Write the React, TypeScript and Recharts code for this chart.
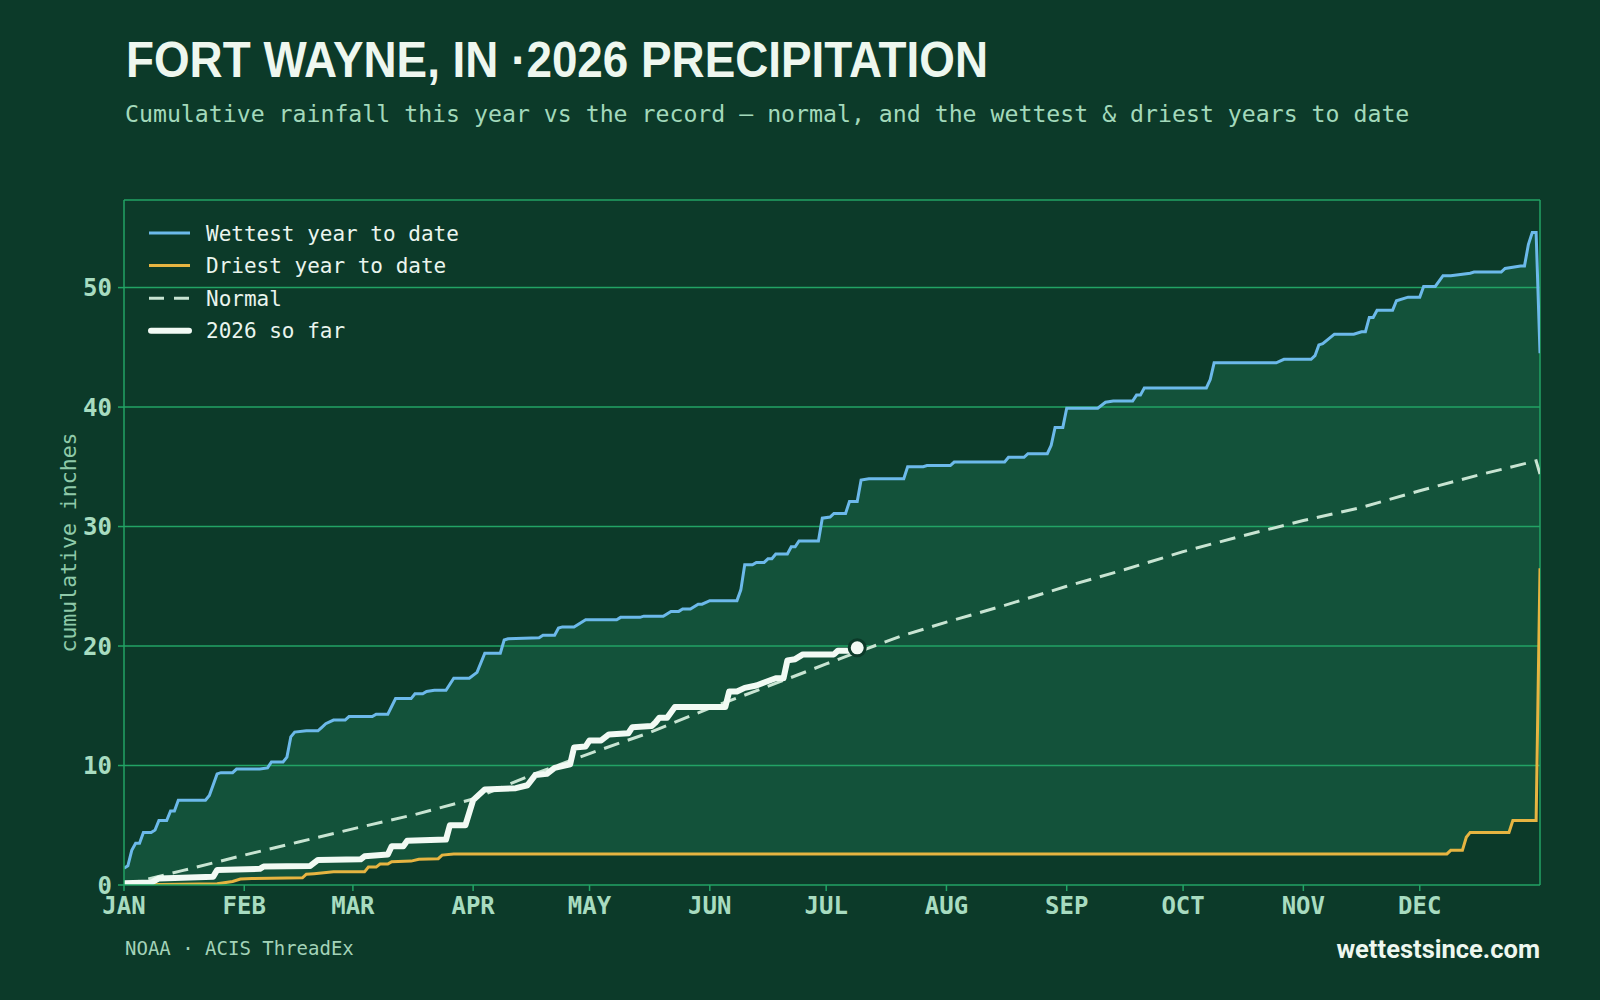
import React from "react";
import {
  ComposedChart,
  Area,
  Line,
  XAxis,
  YAxis,
  ReferenceLine,
  Label,
} from "recharts";

// [day of year, cumulative inches]
const WETTEST: [number, number][] = [
  [0, 1.4], [1, 1.6], [2, 2.9], [3, 3.5], [4, 3.5], [5, 4.4], [7, 4.4], [8, 4.6],
  [9, 5.4], [11, 5.4], [12, 6.2], [13, 6.2], [14, 7.1], [21, 7.1], [22, 7.5],
  [24, 9.3], [25, 9.4], [28, 9.4], [29, 9.7], [35, 9.7], [37, 9.8], [38, 10.3],
  [41, 10.3], [42, 10.7], [43, 12.4], [44, 12.8], [47, 12.9], [50, 12.9],
  [51, 13.2], [52, 13.5], [54, 13.8], [57, 13.8], [58, 14.1], [64, 14.1],
  [65, 14.3], [68, 14.3], [70, 15.6], [74, 15.6], [75, 16.0], [77, 16.0],
  [78, 16.2], [80, 16.3], [83, 16.3], [85, 17.3], [89, 17.3], [91, 17.8],
  [93, 19.4], [97, 19.4], [98, 20.5], [99, 20.6], [107, 20.7], [108, 20.9],
  [111, 20.9], [112, 21.5], [113, 21.6], [116, 21.6], [119, 22.2], [127, 22.2],
  [128, 22.4], [133, 22.4], [134, 22.5], [139, 22.5], [141, 22.9], [143, 22.9],
  [144, 23.1], [146, 23.1], [148, 23.5], [149, 23.5], [151, 23.8], [158, 23.8],
  [159, 24.7], [160, 26.8], [162, 26.8], [163, 27.0], [165, 27.0], [166, 27.3],
  [167, 27.3], [168, 27.7], [171, 27.7], [172, 28.3], [173, 28.3], [174, 28.8],
  [179, 28.8], [180, 30.7], [182, 30.8], [183, 31.1], [186, 31.1], [187, 32.1],
  [189, 32.1], [190, 33.9], [192, 34.0], [201, 34.0], [202, 35.0], [206, 35.0],
  [207, 35.1], [213, 35.1], [214, 35.4], [227, 35.4], [228, 35.8], [232, 35.8],
  [233, 36.1], [238, 36.1], [239, 36.8], [240, 38.3], [242, 38.3], [243, 39.9],
  [251, 39.9], [253, 40.4], [255, 40.5], [260, 40.5], [261, 41.0], [262, 41.0],
  [263, 41.6], [279, 41.6], [280, 42.3], [281, 43.7], [297, 43.7], [299, 44.0],
  [306, 44.0], [307, 44.3], [308, 45.2], [309, 45.3], [312, 46.1], [317, 46.1],
  [319, 46.3], [320, 46.3], [321, 47.5], [322, 47.5], [323, 48.1], [327, 48.1],
  [328, 48.9], [331, 49.2], [334, 49.2], [335, 50.1], [338, 50.1], [340, 51.0],
  [342, 51.0], [347, 51.2], [348, 51.3], [355, 51.3], [356, 51.6], [360, 51.8],
  [361, 51.8], [362, 53.6], [363, 54.6], [364, 54.6], [365, 44.5],
];

const DRIEST: [number, number][] = [
  [0, 0], [24, 0.1], [28, 0.3], [30, 0.5], [33, 0.55], [46, 0.6], [47, 0.9],
  [49, 0.95], [54, 1.1], [62, 1.1], [63, 1.5], [65, 1.5], [66, 1.75], [68, 1.75],
  [69, 1.95], [74, 2.0], [76, 2.15], [81, 2.2], [82, 2.5], [85, 2.6], [341, 2.6],
  [342, 2.9], [345, 2.9], [346, 4.0], [347, 4.4], [357, 4.4], [358, 5.4],
  [364, 5.4], [365, 26.5],
];

const NORMAL: [number, number][] = [
  [0, 0], [15, 1.2], [31, 2.5], [45, 3.6], [59, 4.7], [75, 5.9], [90, 7.2],
  [105, 9.2], [120, 11.0], [135, 12.7], [151, 14.8], [165, 16.5], [181, 18.5],
  [190, 19.6], [200, 20.8], [212, 22.0], [227, 23.4], [243, 25.0], [258, 26.4],
  [273, 27.9], [288, 29.2], [304, 30.5], [319, 31.6], [334, 33.0], [349, 34.3],
  [364, 35.5], [365, 34.4],
];

const THIS_YEAR: [number, number][] = [
  [0, 0.15], [7, 0.2], [9, 0.55], [23, 0.7], [24, 1.25], [35, 1.35], [36, 1.55],
  [48, 1.6], [50, 2.1], [61, 2.15], [62, 2.4], [68, 2.55], [69, 3.25], [72, 3.25],
  [73, 3.7], [83, 3.8], [84, 5.0], [88, 5.0], [90, 7.1], [93, 8.0], [101, 8.1],
  [104, 8.35], [106, 9.2], [109, 9.3], [111, 9.8], [115, 10.1], [116, 11.5],
  [119, 11.6], [120, 12.1], [123, 12.1], [125, 12.6], [130, 12.7], [131, 13.2],
  [136, 13.3], [137, 13.6], [138, 14.0], [140, 14.0], [142, 14.9], [155, 14.9],
  [156, 16.2], [158, 16.2], [160, 16.5], [163, 16.7], [165, 16.95], [168, 17.3],
  [170, 17.3], [171, 18.8], [173, 18.9], [175, 19.3], [183, 19.3], [184, 19.6],
  [187, 19.6], [189, 19.85],
];

const MONTH_LABELS = ["JAN", "FEB", "MAR", "APR", "MAY", "JUN", "JUL", "AUG", "SEP", "OCT", "NOV", "DEC"];
const MONTH_START_DAYS = [0, 31, 59, 90, 120, 151, 181, 212, 243, 273, 304, 334];
const Y_TICKS = [0, 10, 20, 30, 40, 50];
const YEAR_DAYS = 365;

const BG = "#0c3a29";
const BAND = "#13523a";
const GRID = "#22a365";
const TICK_TEXT = "#a8dcc0";
const WET_COLOR = "#6cb9ea";
const DRY_COLOR = "#e6b441";
const NORMAL_COLOR = "#c8e4d2";
const YEAR_COLOR = "#f2faf4";
const MONO = "'DejaVu Sans Mono', monospace";
const NORMAL_DASH = "16 9";

const toPoints = (rows: [number, number][]) =>
  rows.map(([day, value]) => ({ day, value }));

const wetData = toPoints(WETTEST);
const dryData = toPoints(DRIEST);
const normalData = toPoints(NORMAL);
const yearData = toPoints(THIS_YEAR);

const yMax = Math.max(...WETTEST.map((r) => r[1])) * 1.05;

// marker on the latest day of the current year only
function EndDot(props: any) {
  const { cx, cy, index } = props;
  if (index !== yearData.length - 1) return <g key={`d${index}`} />;
  return (
    <circle key="end" cx={cx} cy={cy} r={8} fill={YEAR_COLOR} stroke={BG} strokeWidth={3} />
  );
}

const legendRows = [
  { label: "Wettest year to date", color: WET_COLOR, width: 3, dash: undefined as string | undefined },
  { label: "Driest year to date", color: DRY_COLOR, width: 3, dash: undefined },
  { label: "Normal", color: NORMAL_COLOR, width: 3, dash: "15 10" },
  { label: "2026 so far", color: YEAR_COLOR, width: 6, dash: undefined },
];

function Overlay() {
  return (
    <svg
      width={1600}
      height={1000}
      style={{ position: "absolute", left: 0, top: 0, pointerEvents: "none" }}
    >
      <text
        x={126}
        y={77}
        fill="#eef7ef"
        fontFamily="'Liberation Sans', Arial, sans-serif"
        fontWeight={700}
        fontSize={50}
        textLength={862}
        lengthAdjust="spacingAndGlyphs"
      >
        FORT WAYNE, IN ·2026 PRECIPITATION
      </text>
      <text x={125} y={122} fill="#a3d9bb" fontFamily={MONO} fontSize={23.2}>
        Cumulative rainfall this year vs the record — normal, and the wettest &amp; driest years to date
      </text>
      {legendRows.map((row, i) => {
        const cy = 233 + i * 32.6;
        return (
          <g key={row.label}>
            <line
              x1={row.width > 4 ? 151 : 149}
              x2={row.width > 4 ? 189 : 190}
              y1={cy}
              y2={cy}
              stroke={row.color}
              strokeWidth={row.width}
              strokeDasharray={row.dash}
              strokeLinecap={row.width > 4 ? "round" : "butt"}
            />
            <text x={206} y={cy + 7.6} fill="#eaf5ee" fontFamily={MONO} fontSize={21}>
              {row.label}
            </text>
          </g>
        );
      })}
      <text x={125} y={955} fill="#a3d3b8" fontFamily={MONO} fontSize={19}>
        NOAA · ACIS ThreadEx
      </text>
      <text
        x={1540}
        y={958}
        textAnchor="end"
        fill="#eef7ef"
        fontFamily="Roboto, sans-serif"
        fontWeight={700}
        fontSize={25.5}
      >
        wettestsince.com
      </text>
    </svg>
  );
}

export default function App() {
  return (
    <div
      style={{
        position: "absolute",
        left: 0,
        top: 0,
        width: 1600,
        height: 1000,
        background: BG,
        overflow: "hidden",
      }}
    >
      <ComposedChart
        width={1600}
        height={1000}
        margin={{ top: 200, right: 60, bottom: 85, left: 64 }}
      >
        <XAxis
          type="number"
          dataKey="day"
          domain={[0, YEAR_DAYS]}
          ticks={MONTH_START_DAYS}
          tickFormatter={(d: number) => MONTH_LABELS[MONTH_START_DAYS.indexOf(d)]}
          allowDataOverflow
          interval={0}
          height={30}
          tickSize={6}
          tickMargin={6}
          stroke={GRID}
          strokeWidth={1.5}
          tick={{ fill: TICK_TEXT, fontFamily: MONO, fontSize: 24, fontWeight: 700 }}
        />
        <YAxis
          type="number"
          domain={[0, yMax]}
          ticks={Y_TICKS}
          allowDataOverflow
          width={60}
          tickSize={6}
          tickMargin={6}
          stroke={GRID}
          strokeWidth={1.5}
          tick={{ fill: TICK_TEXT, fontFamily: MONO, fontSize: 24, fontWeight: 700 }}
        >
          <Label
            value="cumulative inches"
            angle={-90}
            position="insideLeft"
            offset={4}
            style={{ textAnchor: "middle", fill: "#8fcaa9", fontFamily: MONO, fontSize: 21.5 }}
          />
        </YAxis>

        <Area
          data={wetData}
          dataKey="value"
          type="linear"
          fill={BAND}
          fillOpacity={1}
          stroke="none"
          isAnimationActive={false}
        />
        <Area
          data={dryData}
          dataKey="value"
          type="linear"
          fill={BG}
          fillOpacity={1}
          stroke="none"
          isAnimationActive={false}
        />

        {Y_TICKS.slice(1).map((v) => (
          <ReferenceLine key={v} y={v} stroke={GRID} strokeWidth={1.5} zIndex={300} />
        ))}
        <ReferenceLine y={yMax} stroke={GRID} strokeWidth={1.5} zIndex={300} />
        <ReferenceLine x={YEAR_DAYS} stroke={GRID} strokeWidth={1.5} zIndex={300} />

        <Line
          data={wetData}
          dataKey="value"
          type="linear"
          stroke={WET_COLOR}
          strokeWidth={3}
          dot={false}
          activeDot={false}
          isAnimationActive={false}
        />
        <Line
          data={dryData}
          dataKey="value"
          type="linear"
          stroke={DRY_COLOR}
          strokeWidth={3}
          dot={false}
          activeDot={false}
          isAnimationActive={false}
        />
        <Line
          data={normalData}
          dataKey="value"
          type="linear"
          stroke={NORMAL_COLOR}
          strokeWidth={3}
          strokeDasharray={NORMAL_DASH}
          dot={false}
          activeDot={false}
          isAnimationActive={false}
        />
        <Line
          data={yearData}
          dataKey="value"
          type="linear"
          stroke={YEAR_COLOR}
          strokeWidth={6}
          strokeLinejoin="round"
          dot={EndDot}
          activeDot={false}
          isAnimationActive={false}
        />
      </ComposedChart>
      <Overlay />
    </div>
  );
}
